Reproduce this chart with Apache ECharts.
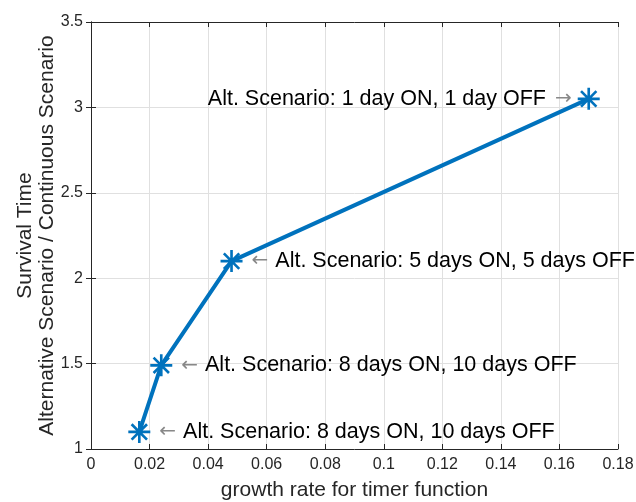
<!DOCTYPE html>
<html><head><meta charset="utf-8">
<script src="https://cdn.jsdelivr.net/npm/echarts@6/dist/echarts.min.js"></script>
<style>html,body{margin:0;padding:0;background:#fff}#c{width:636px;height:502px}</style>
</head><body><div id="c"></div>
<script>
var growthRate = [0.0165, 0.024, 0.048, 0.170];
var survivalRatio = [1.10, 1.49, 2.10, 3.05];
var scenarioLabels = [
  'Alt. Scenario: 8 days ON, 10 days OFF',
  'Alt. Scenario: 8 days ON, 10 days OFF',
  'Alt. Scenario: 5 days ON, 5 days OFF',
  'Alt. Scenario: 1 day ON, 1 day OFF'
];
var labelSide = ['right', 'right', 'right', 'left'];
var xTitle = 'growth rate for timer function';
var yTitle = 'Survival Time\nAlternative Scenario / Continuous Scenario';

var FONT = '"Liberation Sans", Arial, Helvetica, sans-serif';
var AX = '#262626';
var star = 'path://M-1,-0.12L1,-0.12L1,0.12L-1,0.12Z' +
  'M-0.12,-1L0.12,-1L0.12,1L-0.12,1Z' +
  'M-0.785,-0.615L-0.615,-0.785L0.785,0.615L0.615,0.785Z' +
  'M-0.615,0.785L-0.785,0.615L0.615,-0.785L0.785,-0.615Z';

var data = growthRate.map(function (x, i) {
  var left = labelSide[i] === 'left';
  return {
    value: [x, survivalRatio[i]],
    label: {
      show: true,
      position: labelSide[i],
      distance: left ? 6 : 9,
      formatter: left ? '{t|' + scenarioLabels[i] + '}{b|→}' : '{c|←}{t|' + scenarioLabels[i] + '}',
      rich: {
        t: { fontSize: 21.5, color: '#000', fontFamily: FONT },
        b: { fontSize: 20, color: '#888', fontFamily: '"DejaVu Sans", sans-serif', padding: [0, 0, 0, 9] },
        c: { fontSize: 20, color: '#888', fontFamily: '"DejaVu Sans", sans-serif', padding: [0, 7, 0, 0] }
      }
    }
  };
});

var chart = echarts.init(document.getElementById('c'), null, { renderer: 'canvas' });
var tickStyle = { inside: true, length: 5, lineStyle: { color: AX } };
chart.setOption({
  animation: false,
  grid: { left: 91, right: 18, top: 22, bottom: 53, show: false, containLabel: false, outerBoundsMode: 'none' },
  xAxis: [{
    type: 'value', min: 0, max: 0.18, interval: 0.02,
    name: xTitle, nameLocation: 'middle', nameGap: 31, nameMoveOverlap: false,
    nameTextStyle: { fontSize: 21, color: AX, fontFamily: FONT },
    axisLine: { show: true, lineStyle: { color: AX } },
    axisTick: tickStyle,
    axisLabel: { fontSize: 16, color: AX, fontFamily: FONT, margin: 8 },
    splitLine: { show: true, lineStyle: { color: '#e0e0e0' } }
  }, {
    type: 'value', position: 'top', min: 0, max: 0.18, interval: 0.02,
    axisLine: { show: true, lineStyle: { color: AX } },
    axisTick: tickStyle, axisLabel: { show: false }, splitLine: { show: false }
  }],
  yAxis: [{
    type: 'value', min: 1, max: 3.5, interval: 0.5,
    name: yTitle, nameLocation: 'middle', nameGap: 33, nameMoveOverlap: false,
    nameTextStyle: { fontSize: 21, color: AX, fontFamily: FONT, lineHeight: 22 },
    axisLine: { show: true, lineStyle: { color: AX } },
    axisTick: tickStyle,
    axisLabel: { fontSize: 16, color: AX, fontFamily: FONT, margin: 8 },
    splitLine: { show: true, lineStyle: { color: '#e0e0e0' } }
  }, {
    type: 'value', position: 'right', min: 1, max: 3.5, interval: 0.5,
    axisLine: { show: true, lineStyle: { color: AX } },
    axisTick: tickStyle, axisLabel: { show: false }, splitLine: { show: false }
  }],
  series: [{
    type: 'line',
    data: data,
    symbol: star,
    symbolSize: 22,
    lineStyle: { color: '#0072BD', width: 4 },
    itemStyle: { color: '#0072BD' }
  }]
});
</script></body></html>
